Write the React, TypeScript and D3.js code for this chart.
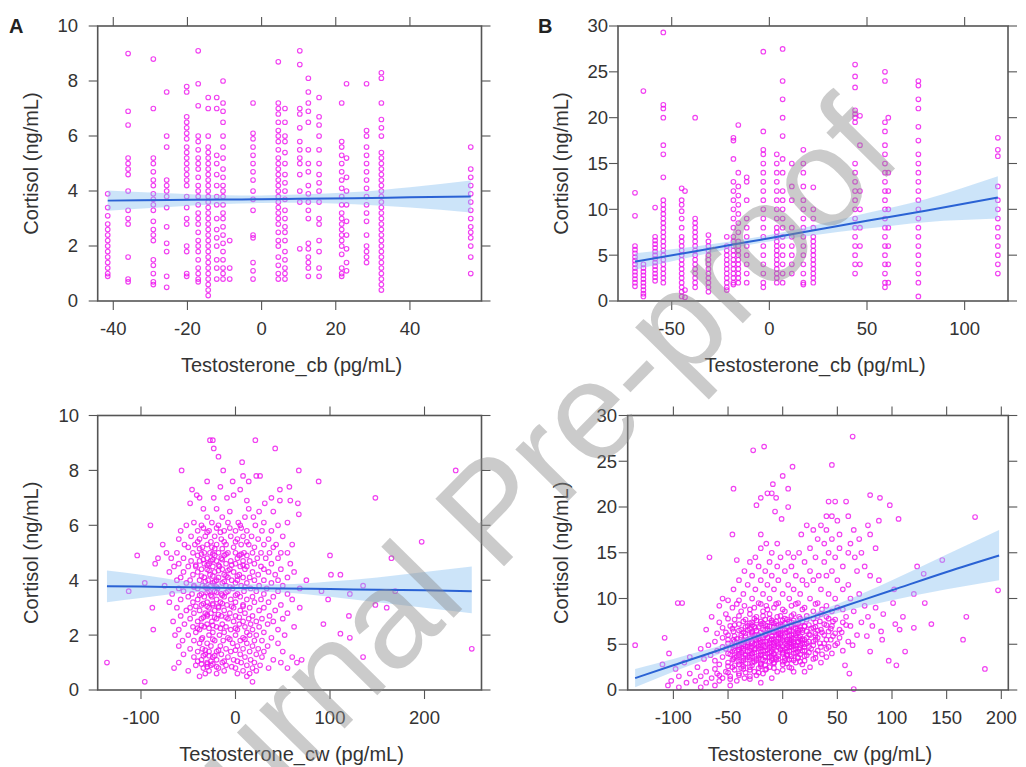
import * as d3 from "d3";

// ---------- data ----------

// panel A: Testosterone_cb takes a few discrete values; cortisol per value
const cbColsA: [number, number[]][] = [
  [-41.5, [3.9, 3.4, 3.1, 2.8, 2.6, 2.4, 2.2, 2.0, 1.8, 1.6, 1.4, 1.2, 1.0, 0.9]],
  [-36, [9.0, 6.9, 6.4, 5.2, 5.0, 4.8, 4.6, 4.0, 3.3, 3.0, 2.8, 1.6, 0.8, 0.7]],
  [-29.2, [8.8, 7.0, 5.2, 5.0, 4.7, 4.4, 4.2, 3.9, 3.7, 3.5, 3.3, 2.9, 2.6, 2.4, 2.2, 1.5, 1.3, 1.0, 0.7, 0.6]],
  [-25.6, [7.6, 6.0, 5.6, 4.4, 4.2, 4.0, 3.8, 3.4, 2.7, 2.1, 1.8, 0.9, 0.5]],
  [-20.2, [7.8, 7.6, 6.7, 6.5, 6.3, 6.1, 5.9, 5.6, 5.4, 5.2, 5.0, 4.8, 4.6, 4.4, 4.2, 3.8, 3.4, 3.0, 2.8, 2.0, 1.8, 1.0, 0.9]],
  [-17.1, [9.1, 7.9, 7.1, 6.0, 5.8, 5.5, 5.2, 5.0, 4.8, 4.5, 4.2, 4.0, 3.8, 3.5, 3.2, 3.0, 2.8, 2.5, 2.2, 2.0, 1.8, 1.5, 1.2, 1.0, 0.8, 0.7]],
  [-14.4, [7.4, 7.0, 6.0, 5.6, 5.4, 5.2, 5.0, 4.8, 4.6, 4.4, 4.2, 4.0, 3.8, 3.6, 3.4, 3.2, 3.0, 2.8, 2.6, 2.4, 2.2, 2.0, 1.8, 1.6, 1.4, 1.2, 1.0, 0.8, 0.6, 0.4, 0.2]],
  [-12.1, [7.4, 7.0, 5.3, 5.0, 4.6, 4.2, 3.8, 3.5, 3.0, 2.6, 2.3, 2.0, 1.5, 1.2, 0.8]],
  [-10.4, [8.0, 7.2, 6.9, 6.5, 6.0, 5.6, 5.2, 4.8, 4.5, 4.2, 4.0, 3.8, 3.5, 3.2, 3.0, 2.7, 2.4, 2.1, 1.8, 1.5, 1.2, 1.0, 0.8]],
  [-8.6, [2.2, 1.2, 0.8]],
  [-2.3, [7.2, 6.1, 5.9, 5.6, 5.3, 5.0, 4.7, 4.4, 4.0, 3.7, 3.3, 2.4, 2.3, 1.4, 1.1, 0.8]],
  [4.5, [8.7, 7.2, 7.0, 6.8, 6.5, 6.2, 6.0, 5.8, 5.5, 5.2, 5.0, 4.8, 4.6, 4.4, 4.2, 4.0, 3.8, 3.6, 3.4, 3.2, 3.0, 2.8, 2.5, 2.2, 2.0, 1.6, 1.3, 1.0, 0.8]],
  [6.3, [7.0, 6.5, 6.0, 5.8, 5.4, 5.0, 4.6, 4.3, 4.0, 3.7, 3.3, 3.0, 2.7, 2.5, 2.2, 1.8, 1.5, 1.2, 1.0, 0.8]],
  [10.3, [9.1, 8.6, 7.0, 6.8, 6.3, 5.8, 5.5, 5.2, 5.0, 4.6, 4.0, 3.6, 1.9]],
  [12.6, [8.1, 7.6, 7.2, 6.9, 6.5, 5.5, 5.0, 4.7, 4.2, 3.9, 3.6, 3.3, 3.0, 2.1, 1.9, 1.6, 1.4, 1.2, 0.9]],
  [15.5, [7.4, 6.7, 6.4, 6.0, 5.5, 5.0, 4.6, 4.3, 4.0, 3.6, 3.0, 2.8, 2.2, 1.8, 1.2, 0.9]],
  [21.6, [7.2, 5.8, 5.6, 5.3, 5.0, 4.7, 4.4, 4.1, 3.8, 3.5, 3.2, 3.0, 2.8, 2.6, 2.4, 2.2, 2.0, 1.7, 1.2, 1.0, 0.9]],
  [22.9, [7.9, 5.2, 4.5, 4.0, 3.5, 2.9, 2.4, 1.9, 1.4, 1.1]],
  [28.3, [7.9, 6.2, 6.0, 5.6, 5.3, 5.0, 4.7, 4.4, 4.1, 3.8, 3.5, 3.2, 2.9, 2.4, 2.0, 1.8, 1.6, 1.4]],
  [32.3, [8.3, 8.1, 7.2, 6.6, 6.3, 6.0, 5.4, 5.2, 5.0, 4.8, 4.6, 4.4, 4.2, 4.0, 3.8, 3.6, 3.4, 3.2, 3.0, 2.8, 2.6, 2.4, 2.2, 2.0, 1.8, 1.6, 1.4, 1.2, 1.0, 0.8, 0.6, 0.4]],
  [56.4, [5.6, 4.8, 4.5, 4.2, 3.9, 3.6, 3.3, 3.0, 2.7, 2.5, 2.3, 2.0, 1.6, 1.0]],
];

// panel B: same layout, the other group
const cbColsB: [number, number[]][] = [
  [-68.8, [11.8, 9.3, 6.0, 5.6, 5.2, 4.8, 4.4, 4.0, 3.6, 3.2, 2.8, 2.4, 2.0, 1.6]],
  [-64.5, [22.9, 4.0, 3.6, 3.2, 2.8, 2.4, 2.0, 1.6, 1.2, 0.8, 0.5]],
  [-58.5, [10.2, 7.0, 6.6, 6.2, 5.8, 5.4, 5.0, 4.6, 4.2, 3.8, 3.4, 3.0, 2.6, 2.2]],
  [-54.3, [29.3, 21.4, 21.0, 20.0, 17.0, 16.0, 13.5, 11.0, 10.5, 10.0, 9.5, 9.0, 8.5, 8.0, 7.5, 7.0, 6.5, 6.0, 5.5, 5.0, 4.5, 4.0, 3.5, 3.0, 2.5, 2.0]],
  [-44.9, [12.3, 11.0, 10.5, 9.8, 9.0, 8.0, 7.0, 6.5, 6.0, 5.5, 5.0, 4.5, 4.0, 3.5, 3.0, 2.5, 2.0, 1.5, 1.0, 0.5]],
  [-43.2, [12.0, 1.2, 0.4]],
  [-38, [20.0, 9.0, 8.5, 8.0, 7.5, 7.0, 6.5, 6.0, 5.5, 5.0, 4.5, 4.0, 3.5, 3.0, 2.5, 2.0, 1.5]],
  [-31.2, [7.2, 6.5, 6.0, 5.5, 5.0, 4.5, 4.0, 3.5, 3.0, 2.5, 2.0, 1.5, 1.0]],
  [-21.8, [7.0, 6.0, 5.5, 5.0, 4.5, 4.0, 3.5, 3.0, 2.5, 2.0, 1.5, 1.2]],
  [-18.4, [17.8, 17.5, 15.5, 13.0, 12.0, 11.0, 10.0, 9.0, 8.0, 7.0, 6.5, 6.0, 5.5, 5.0, 4.5, 4.0, 3.5, 3.0, 2.5, 2.0, 1.8]],
  [-15.9, [19.2, 14.0, 12.5, 11.5, 10.5, 9.5, 8.5, 7.5, 6.5, 6.0, 5.5, 5.0, 4.5, 4.0, 3.5, 3.0, 2.5, 2.0]],
  [-11.6, [13.5, 13.0, 11.0, 9.0, 8.0, 7.0, 6.0, 5.0, 4.0, 3.0, 2.0]],
  [-3.1, [27.2, 18.5, 16.5, 16.0, 15.0, 14.0, 13.0, 12.0, 11.0, 10.0, 9.0, 8.0, 7.0, 6.0, 5.0, 4.0, 3.0, 2.0, 1.5]],
  [3.8, [16.0, 15.0, 14.0, 13.0, 12.0, 11.0, 10.0, 9.0, 8.0, 7.5, 7.0, 6.5, 6.0, 5.5, 5.0, 4.5, 4.0, 3.5, 3.0, 2.5, 2.0]],
  [6.8, [27.5, 24.0, 22.0, 20.0, 18.0, 15.5, 14.0, 12.0, 11.0, 10.0, 9.0, 8.0, 7.0, 6.0, 5.0, 4.0, 3.0, 2.0]],
  [11.5, [15.0, 12.5, 11.0, 8.0, 7.0, 6.0, 5.0, 4.0, 3.0]],
  [17.4, [16.5, 15.0, 14.0, 12.5, 11.0, 10.0, 9.0, 8.0, 7.0, 6.0, 5.0, 4.0, 3.0, 2.0, 1.8]],
  [22.5, [12.4, 10.0, 9.0, 8.0, 7.0, 6.5, 6.0, 5.5, 5.0, 4.5, 4.0, 3.5, 3.0, 2.5, 2.0]],
  [43.9, [25.8, 24.5, 23.3, 20.8, 20.4, 20.0, 19.5, 15.0, 14.0, 13.0, 12.0, 11.0, 10.0, 9.0, 8.0, 7.0, 6.0, 5.0, 4.0, 3.0]],
  [46.4, [20.2, 17.0, 12.0, 10.0, 8.0, 6.0, 4.0]],
  [59.2, [25.0, 24.0, 19.5, 18.5, 17.0, 16.0, 15.0, 14.0, 13.0, 12.0, 11.0, 10.0, 9.0, 8.0, 7.0, 6.0, 5.0, 4.0, 3.0, 2.0, 1.5]],
  [60.9, [20.0, 14.0, 12.0, 10.0, 8.0, 6.0, 4.0, 2.0]],
  [76.3, [24.0, 23.5, 22.0, 21.0, 19.0, 17.5, 16.0, 15.0, 14.0, 13.0, 12.0, 11.0, 10.0, 9.0, 8.0, 7.0, 6.0, 5.0, 4.0, 3.0, 2.0, 0.5]],
  [117, [17.8, 16.5, 15.8, 12.5, 11.0, 10.0, 9.0, 8.0, 7.0, 6.0, 5.0, 4.0, 3.0]],
];

// panel C: continuous Testosterone_cw, stored as rows [cortisol, testosterone values]
const cwRowsC: [number, number[]][] = [
  [9.1, [-27, -24, 21]], [8.8, [-23, 42]], [8.5, [-18]], [8.3, [7]], [8.0, [-57, -13, 67, 233]],
  [7.8, [8, 22, 26]], [7.6, [-30, -3, 14, 88]], [7.4, [-16, 57]], [7.3, [-46, 5, 47]], [7.1, [-41, -2]],
  [7.0, [-38, -23, -9, 38, 148]], [6.9, [12, 47, 58]], [6.8, [-48, 31, 66]], [6.6, [-34, -20, 14]],
  [6.5, [-6, 25, 40]], [6.4, [67]], [6.3, [-30, -14, 10, 19]], [6.1, [-44, -25, -8, 3, 30, 55]],
  [6.0, [-90, -52, -36, -18, 5, 21, 45]], [5.9, [-34, -20, -6, 6]], [5.8, [-58, -40, -28, -12, 0, 12, 28, 38]],
  [5.75, [-30, -16]], [5.6, [-47, -32, -22, -5, 8, 17, 50]], [5.5, [-60, -38, -15, 2, 24, 35]],
  [5.4, [-40, -26, -12, 0, 12, 197]], [5.3, [-77, -54, -43, -30, -20, -10, 6, 14, 30, 43, 60]],
  [5.2, [-50, -35, -25, -2, 20, 40]], [5.15, [-38, -22, -14]],
  [5.0, [-73, -62, -45, -33, -27, -18, -8, 0, 9, 18, 27, 36, 48, 55]], [4.95, [-36, -24, -10, 6]],
  [4.9, [-104, -40, -22, -12, 4, 12, 100]], [4.8, [-82, -68, -55, -30, -15, 2, 23, 32, 45, 165]],
  [4.75, [-34, -24, -14]], [4.7, [-47, -38, -26, -20, -5, 8, 15]], [4.6, [-85, -60, -33, -28, -10, 0, 20, 38, 58]],
  [4.55, [-42, -30, -18, -4, 8]], [4.5, [-65, -50, -42, -24, -17, 5, 12, 27]], [4.4, [-36, -30, -14, -6, 10, 30, 48]],
  [4.35, [-28, -18, -8]], [4.3, [-70, -55, -40, -22, -2, 18, 35, 62]], [4.2, [-45, -27, -12, 4, 24, 42, 101, 111]],
  [4.15, [-36, -24, -10, 2]], [4.1, [-58, -33, -18, -8, 8, 15, 55]], [4.0, [-62, -48, -38, -29, -20, -4, 2, 20, 30, 45, 75]],
  [3.95, [-32, -22, -12]], [3.9, [-96, -52, -24, -14, 0, 12, 38]], [3.8, [-75, -44, -35, -26, -10, 6, 25, 50, 135]],
  [3.75, [-44, -32, -20, -6, 10]], [3.7, [-60, -40, -30, -19, -3, 16, 33, 68]],
  [3.6, [-113, -55, -28, -22, -8, 9, 22, 45, 91, 169]], [3.55, [-30, -20, -10]], [3.5, [-67, -46, -36, -15, 2, 30, 55, 121]],
  [3.45, [-38, -26, -14, 0]], [3.4, [-50, -33, -25, -12, 5, 18, 40]], [3.3, [-58, -40, -20, -5, 12, 27, 60, 98]],
  [3.2, [-70, -45, -30, -16, 0, 20, 35]], [3.15, [-34, -24, -14]], [3.1, [-36, -24, -9, 8, 48, 148]],
  [3.05, [-42, -30, -18, -4, 8]], [3.0, [-88, -62, -48, -28, -18, -2, 15, 30, 68, 160]],
  [2.9, [-52, -38, -22, -12, 5, 25, 42]], [2.8, [-44, -32, -26, -6, 10, 55]], [2.75, [-30, -18]],
  [2.7, [-58, -30, -15, 0, 18, 36, 120]], [2.65, [-34, -22, -10, 4]], [2.6, [-48, -36, -20, -8, 14, 28, 50]],
  [2.5, [-66, -40, -25, -2, 8, 22, 40]], [2.4, [-54, -30, -14, 4, 16, 34, 93]], [2.35, [-36, -24]],
  [2.3, [-45, -33, -20, -10, 10, 25, 62]], [2.25, [-40, -28, -16, 0]], [2.2, [-87, -60, -38, -5, 2, 18, 45]],
  [2.1, [-42, -24, -12, 12, 30]], [2.05, [111]], [2.0, [-64, -50, -28, -17, 0, 15, 22, 52]],
  [1.9, [-35, -8, 8, 38, 121]], [1.85, [-36, -24, -6, 10]], [1.8, [-56, -44, -22, -13, 5, 20, 28]],
  [1.7, [-38, -30, -3, 12, 45]], [1.6, [-60, -26, -16, 2, 18, 34]], [1.5, [-48, -35, -10, 8, 24, 250]],
  [1.45, [-32, -18, 0]], [1.4, [-40, -28, -20, -5, 15, 30, 50]], [1.3, [-55, -32, -15, 5, 22]],
  [1.25, [-34, -28, -22]], [1.2, [-44, -24, -8, 10, 28, 60, 135]], [1.1, [-36, -20, -2, 16, 40, 70]],
  [1.05, [-40, -26, -12, 2]], [1.0, [-136, -60, -30, -14, 6, 20, 48, 65]], [0.95, [-36, -30, -24]],
  [0.9, [-42, -26, -10, 12, 26]], [0.85, [-30, -20, -4]], [0.8, [-65, -34, -18, 0, 18, 35, 55]],
  [0.7, [-50, -28, -12, 8, 22]], [0.6, [-32, -20, 2, 15]], [0.5, [-38, 12]], [0.3, [-96, 18]],
];

// panel D: rows [cortisol, testosterone values]
const cwRowsD: [number, number[]][] = [
  [27.7, [64]], [26.6, [-17]], [26.2, [-27]], [24.6, [45]], [24.4, [9]], [23.4, [0]], [22.5, [-9]],
  [22.0, [-45, 5]], [21.5, [-14, -10]], [21.3, [80]], [21.0, [-20, -6, 89]], [20.6, [42, 48, 58]],
  [20.2, [-24, 98]], [20.0, [5]], [19.5, [-7]], [19.0, [40, 45, 60]], [18.9, [176]], [18.7, [-1, 106]],
  [18.5, [50, 88]], [18.0, [22, 35, 78]], [17.5, [28, 40, 65]], [17.0, [-46, -20, 17, 52, 80]],
  [16.5, [32, 45, 70]], [16.0, [-15, -5, 38, 62]], [15.5, [-20, 25, 52, 85]], [15.0, [-10, 5, 15, 42, 60, 72]],
  [14.5, [-67, -25, -2, 10, 30, 48, 66]], [14.2, [-42, 146]], [14.0, [-30, -12, 20, 38]],
  [13.5, [-22, -5, 8, 55, 75, 123]], [13.0, [-35, -16, 2, 25, 45, 68]], [12.7, [129]],
  [12.5, [-28, -10, 12, 33, 40, 80]], [12.0, [-40, -20, -4, 18, 28, 50, 88]], [11.5, [-32, -14, 5, 22, 60]],
  [11.0, [-45, -25, -8, 10, 35, 55, 102]], [10.9, [197]], [10.5, [-36, -18, 0, 16, 42, 70, 120]],
  [10.0, [-55, -28, -12, 6, 25, 48, 62]], [9.8, [-50, -40]], [9.5, [-96, -92, -22, -4, 14, 32, 101, 130]],
  [9.4, [-42, -20, -6, 12, 30]], [9.2, [-58, -35, -15, 8, 40, 75]], [9.0, [-46, -26, -8, 20, 50, 85]],
  [8.8, [-30, -14, 0, 18, 36, 55]], [8.6, [-38, -18, 2, 28, 45, 65]], [8.3, [-52, -30, -12, 10, 35, 92]],
  [8.1, [-40, -18, -2, 8, 22, 32]], [8.0, [-65, -24, -5, 15, 40, 58, 78, 110, 168]],
  [7.8, [-50, -26, -12, 2, 16, 28, 42]], [7.7, [-44, -34, -16, 4, 22, 48]], [7.6, [-24, -10, 0, 10]],
  [7.5, [-36, -20, -6, 6, 18, 34, 46]], [7.4, [-58, -28, -10, 8, 30, 55, 72]], [7.3, [-30, -18, -8, 2, 12]],
  [7.2, [-40, -20, -2, 14, 38, 103, 136]], [7.1, [-44, -28, -16, -4, 8, 24, 40, 58]],
  [7.0, [-48, -32, -14, 0, 20, 45, 62, 82]], [6.95, [-26, -12, -2, 8, 20]],
  [6.9, [-34, -22, -8, 4, 16, 30]], [6.8, [-55, -25, -6, 10, 28, 120]], [6.7, [-46, -30, -14, -2, 12, 26, 44]],
  [6.6, [-70, -38, -18, 2, 16, 35, 52, 107]], [6.55, [-32, -16, -6, 6, 18]], [6.5, [-40, -24, -12, 0, 14, 32]],
  [6.4, [-45, -28, -10, 6, 22, 42, 90]], [6.3, [-52, -36, -20, -8, 4, 18, 36, 54]],
  [6.25, [-28, -12, -4, 2, 14]], [6.2, [-60, -34, -15, -2, 12, 30, 48]], [6.1, [-28, -16, -4, 10, 24]],
  [6.0, [-50, -22, -6, 8, 25, 38, 68]], [5.95, [-38, -26, -16, -2, 6, 12]],
  [5.9, [-44, -34, -22, -10, 2, 16, 30, 46, 77]], [5.7, [-108, -55, -38, -26, -18, -14, -4, 0, 8, 15, 22, 32, 52]],
  [5.6, [-42, -30, -22, -10, -2, 10, 18]],
  [5.5, [-50, -45, -32, -25, -20, -10, -8, 4, 6, 16, 20, 30, 40, 44, 91, 165]], [5.4, [-36, -24, -12, 0, 8, 18]],
  [5.3, [-62, -44, -35, -28, -18, -15, -6, 4, 10, 14, 24, 28, 60]], [5.2, [-42, -32, -20, -8, 6, 14]],
  [5.1, [-50, -38, -28, -24, -12, -5, -2, 2, 10, 18, 22, 34, 38, 50]], [5.0, [-36, -26, -14, -4, 8, 20]],
  [4.9, [-135, -68, -46, -40, -32, -20, -18, -8, 4, 12, 16, 28, 48, 64]], [4.8, [-44, -34, -22, -10, 0, 10]],
  [4.7, [-55, -40, -32, -28, -16, -12, -4, 6, 8, 20, 24, 35, 42]], [4.6, [-38, -30, -20, -8, 4, 16]],
  [4.5, [-75, -52, -45, -36, -25, -22, -10, -2, 2, 12, 15, 26, 40]], [4.4, [-40, -26, -14, -2, 10]],
  [4.3, [-60, -44, -36, -30, -18, -16, -6, 0, 6, 18, 20, 32, 55]], [4.2, [-46, -32, -20, -10, 4, 14, 80, 112]],
  [4.1, [-38, -26, -12, 0, 12, 24]], [4.0, [-104, -50, -28, -8, 10, 30, 45]], [3.95, [-40, -28, -14, 0]],
  [3.9, [-48, -34, -20, -8, 4, 16, 36]], [3.8, [-66, -40, -20, 4, 22]], [3.75, [-34, -22, -10, 4]],
  [3.7, [-42, -28, -16, -4, 8, 20]], [3.6, [-85, -55, -32, -12, 14, 40]], [3.55, [-44, -30, -16, -6]],
  [3.5, [-36, -22, -10, 2, 14, 30]], [3.4, [-72, -45, -24, -4, 8, 28]], [3.3, [-46, -30, -18, -6, 6]],
  [3.25, [-38, -24, -10, 10]], [3.2, [-62, -36, -16, 2, 20, 97]], [3.1, [-40, -26, -12, 0, 16]],
  [3.0, [-90, -50, -28, -8, 12, 35]], [2.9, [-34, -20, -8, 4]], [2.8, [-110, -58, -40, -20, 0, 18]],
  [2.7, [-44, -28, -16, 57, 104]], [2.6, [-50, -36, -20]], [2.5, [-78, -46, -30, -12, 6, 25]],
  [2.4, [-38, -22, -8, 8]], [2.3, [-98, -62, -36, -15, 185]], [2.2, [-44, -30, -16, 0]],
  [2.0, [-70, -52, -26, -5, 10, 20]], [1.9, [-50, -34, -22]], [1.8, [-85, -60, -40, -18, 61]],
  [1.6, [-58, -40, -24]], [1.5, [-95, -75, -48, -30]], [1.3, [-65, -55, -35, -10]], [1.2, [-48, -30]],
  [1.0, [-102, -80, -58, -42]], [0.8, [-88, -70, -20]], [0.5, [-105, -62, -48]], [0.3, [-95, -75]], [0.1, [65]],
];

// fitted lines with 95% bands: x, fit, lower, upper
const fitAX = [-41.5, -25, -10, 0, 10, 25, 40, 56.4];
const fitAY = [3.65, 3.67, 3.69, 3.7, 3.72, 3.74, 3.77, 3.8];
const fitALo = [3.28, 3.42, 3.53, 3.56, 3.57, 3.52, 3.4, 3.22];
const fitAHi = [4.02, 3.92, 3.85, 3.84, 3.87, 3.96, 4.14, 4.38];

const fitBX = [-68.8, -40, -20, 0, 20, 50, 80, 117];
const fitBY = [4.3, 5.35, 6.1, 6.85, 7.6, 8.75, 9.85, 11.3];
const fitBLo = [3.4, 4.8, 5.7, 6.5, 7.1, 7.9, 8.6, 9.0];
const fitBHi = [5.2, 5.9, 6.5, 7.2, 8.1, 9.6, 11.1, 13.6];

const fitCX = [-136, -100, -50, 0, 50, 100, 150, 200, 250];
const fitCY = [3.78, 3.77, 3.74, 3.72, 3.7, 3.68, 3.65, 3.63, 3.6];
const fitCLo = [3.2, 3.35, 3.55, 3.6, 3.55, 3.4, 3.2, 3.0, 2.8];
const fitCHi = [4.35, 4.2, 3.95, 3.85, 3.85, 3.95, 4.1, 4.3, 4.5];

const fitDX = [-135, -100, -50, 0, 50, 100, 150, 198];
const fitDY = [1.3, 2.7, 4.7, 6.9, 8.9, 10.9, 12.9, 14.7];
const fitDLo = [0.3, 2.0, 4.3, 6.6, 8.4, 9.8, 11.0, 12.0];
const fitDHi = [2.3, 3.4, 5.1, 7.2, 9.4, 12.0, 14.8, 17.5];

// ticks
const xTicksA = [-40, -20, 0, 20, 40];
const xTicksB = [-50, 0, 50, 100];
const xTicksC = [-100, 0, 100, 200];
const xTicksD = [-100, -50, 0, 50, 100, 150, 200];
const yTicks10 = [0, 2, 4, 6, 8, 10];
const yTicks30 = [0, 5, 10, 15, 20, 25, 30];

const xTitleCb = "Testosterone_cb (pg/mL)";
const xTitleCw = "Testosterone_cw (pg/mL)";
const yTitle = "Cortisol (ng/mL)";

// ---------- drawing ----------

const FONT = "'Liberation Sans', Arial, Helvetica, sans-serif";
const TXT = "#333";
const AXIS = "#555";
const TICK = 9;

type Pt = [number, number];

const fromCols = (cols: [number, number[]][]): Pt[] =>
  cols.flatMap(([cx, ys]) => ys.map((v) => [cx, v] as Pt));
const fromRows = (rows: [number, number[]][]): Pt[] =>
  rows.flatMap(([ry, xs]) => xs.map((v) => [v, ry] as Pt));

const panels = [
  {
    letter: "A", letterX: 9, left: 97.7, right: 481.5, top: 26, bottom: 301, labelEnd: 78, yTitleX: 31,
    xDomain: [-44.2, 59.3], yDomain: [0, 10], xTicks: xTicksA, yTicks: yTicks10,
    points: fromCols(cbColsA), fit: [fitAX, fitAY, fitALo, fitAHi], xTitle: xTitleCb,
  },
  {
    letter: "B", letterX: 538, left: 618, right: 1008, top: 26, bottom: 301, labelEnd: 608, yTitleX: 561,
    xDomain: [-77.5, 122.2], yDomain: [0, 30], xTicks: xTicksB, yTicks: yTicks30,
    points: fromCols(cbColsB), fit: [fitBX, fitBY, fitBLo, fitBHi], xTitle: xTitleCb,
  },
  {
    letter: "", letterX: 0, left: 97.7, right: 481.5, top: 415.5, bottom: 690, labelEnd: 79, yTitleX: 31,
    xDomain: [-145.8, 260.3], yDomain: [0, 10], xTicks: xTicksC, yTicks: yTicks10,
    points: fromRows(cwRowsC), fit: [fitCX, fitCY, fitCLo, fitCHi], xTitle: xTitleCw,
  },
  {
    letter: "", letterX: 0, left: 627.7, right: 1008.3, top: 415.5, bottom: 690, labelEnd: 617, yTitleX: 561,
    xDomain: [-141.8, 206.4], yDomain: [0, 30], xTicks: xTicksD, yTicks: yTicks30,
    points: fromRows(cwRowsD), fit: [fitDX, fitDY, fitDLo, fitDHi], xTitle: xTitleCw,
  },
];

function Panel({ p }: { p: (typeof panels)[number] }) {
  const x = d3.scaleLinear().domain(p.xDomain).range([p.left, p.right]);
  const y = d3.scaleLinear().domain(p.yDomain).range([p.bottom, p.top]);
  const [fx, fy, flo, fhi] = p.fit;
  const rows = fx.map((v, i) => ({ x: v, y: fy[i], lo: flo[i], hi: fhi[i] }));

  const band = d3
    .area<any>()
    .x((d) => x(d.x))
    .y0((d) => y(d.lo))
    .y1((d) => y(d.hi))
    .curve(d3.curveMonotoneX);
  const line = d3
    .line<any>()
    .x((d) => x(d.x))
    .y((d) => y(d.y))
    .curve(d3.curveMonotoneX);

  const midX = (p.left + p.right) / 2;
  const midY = (p.top + p.bottom) / 2;

  return (
    <g>
      {/* points */}
      <g fill="none" stroke="#ee10ee" strokeWidth={1.15} strokeOpacity={0.8}>
        {p.points.map((d, i) => (
          <circle key={i} cx={x(d[0])} cy={y(d[1])} r={2.3} />
        ))}
      </g>
      {/* confidence band and fit */}
      <path d={band(rows) ?? ""} fill="#8ec4f2" fillOpacity={0.45} />
      <path d={line(rows) ?? ""} fill="none" stroke="#2a62d4" strokeWidth={2} />

      {/* frame */}
      <rect
        x={p.left}
        y={p.top}
        width={p.right - p.left}
        height={p.bottom - p.top}
        fill="none"
        stroke={AXIS}
        strokeWidth={1.6}
      />
      {/* ticks on all four sides */}
      <g stroke={AXIS} strokeWidth={1.1}>
        {p.xTicks.map((t) => (
          <g key={`x${t}`}>
            <line x1={x(t)} x2={x(t)} y1={p.bottom} y2={p.bottom + TICK} />
            <line x1={x(t)} x2={x(t)} y1={p.top} y2={p.top - TICK} />
          </g>
        ))}
        {p.yTicks.map((t) => (
          <g key={`y${t}`}>
            <line x1={p.left - TICK} x2={p.left} y1={y(t)} y2={y(t)} />
            <line x1={p.right} x2={p.right + TICK} y1={y(t)} y2={y(t)} />
          </g>
        ))}
      </g>
      <g fontFamily={FONT} fill={TXT} fontSize={18.5}>
        {p.xTicks.map((t) => (
          <text key={`xl${t}`} x={x(t)} y={p.bottom + 34} textAnchor="middle">
            {String(t)}
          </text>
        ))}
        {p.yTicks.map((t) => (
          <text key={`yl${t}`} x={p.labelEnd} y={y(t)} dy="0.35em" textAnchor="end">
            {String(t)}
          </text>
        ))}
      </g>
      <text
        x={midX + 2}
        y={p.bottom + 71}
        textAnchor="middle"
        fontFamily={FONT}
        fontSize={20}
        fill={TXT}
      >
        {p.xTitle}
      </text>
      <text
        transform={`translate(${p.yTitleX},${midY}) rotate(-90)`}
        textAnchor="middle"
        dy="0.35em"
        fontFamily={FONT}
        fontSize={20}
        fill={TXT}
      >
        {yTitle}
      </text>
      {p.letter && (
        <text
          x={p.letterX}
          y={p.top + 7}
          fontFamily={FONT}
          fontWeight="bold"
          fontSize={20}
          fill="#222"
        >
          {p.letter}
        </text>
      )}
    </g>
  );
}

export default function App() {
  return (
    <svg
      width={1026}
      height={767}
      viewBox="0 0 1026 767"
      style={{ position: "absolute", left: 0, top: 0, background: "#fff" }}
    >
      <rect width={1026} height={767} fill="#fff" />
      {panels.map((p, i) => (
        <Panel key={i} p={p} />
      ))}
      {/* journal watermark */}
      <text
        transform="translate(526,544) rotate(-45.5)"
        textAnchor="middle"
        fontFamily={FONT}
        fontSize={140}
        fill="#8c8c8c"
        fillOpacity={0.45}
      >
        Journal Pre-proof
      </text>
    </svg>
  );
}
